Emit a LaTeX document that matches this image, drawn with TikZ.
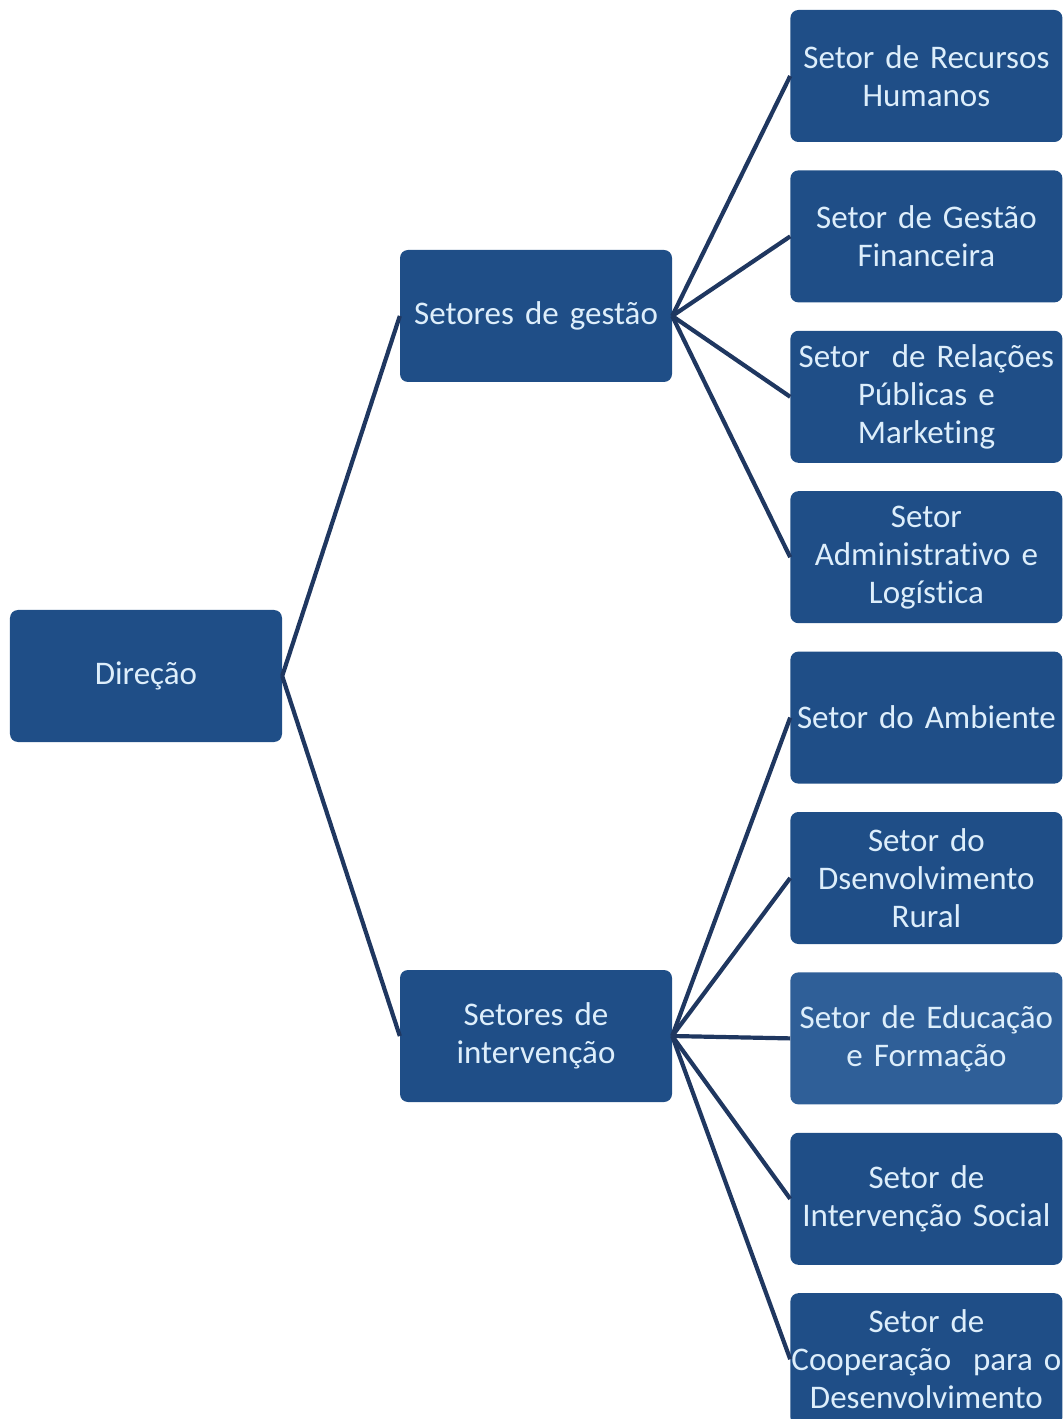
\documentclass[tikz,border=0pt]{standalone}
\usepackage{fontspec}
\setmainfont[Ligatures=NoCommon]{Carlito}
\usetikzlibrary{positioning}
\definecolor{boxblue}{HTML}{1F4E87}
\definecolor{boxlight}{HTML}{2F5F98}
\definecolor{txtblue}{HTML}{DDEEFB}
\definecolor{linenavy}{HTML}{1F3760}
\begin{document}
\begin{tikzpicture}[x=1pt,y=1pt,node distance=28pt]
\tikzstyle{box}=[fill=boxblue, rounded corners=8pt, minimum width=272pt, minimum height=132pt, text width=272pt, align=center, text=txtblue, font=\fontsize{33}{38}\selectfont, inner sep=0pt]
\tikzstyle{boxl}=[box, fill=boxlight]
\tikzstyle{link}=[draw=linenavy, line width=4.2pt]
\useasboundingbox (-146,676) rectangle (918,-743);
\node (dir) [box] at (0,0) {Direção};
\node (ges) [box] at (390,360) {Setores de gestão};
\node (int) [box] at (390,-360) {Setores de\\intervenção};

\node (rh) [box, right=118pt of ges, yshift=240pt] {Setor de Recursos\\Humanos};
\node (fin) [box, below=of rh] {Setor de Gestão\\Financeira};
\node (rel) [box, below=of fin] {Setor~~de Relações\\Públicas e\\Marketing};
\node (adm) [box, below=of rel] {Setor\\Administrativo e\\Logística};
\node (amb) [box, below=of adm] {Setor do Ambiente};
\node (rur) [box, below=of amb] {Setor do\\Dsenvolvimento\\Rural};
\node (edu) [boxl, below=of rur] {Setor de Educação\\e Formação};
\node (soc) [box, below=of edu] {Setor de\\Intervenção Social};
\node (coo) [box, below=of soc] {Setor de\\Cooperação~~para o\\Desenvolvimento};

\path[link] (dir.east) edge (ges.west);
\path[link] (dir.east) edge (int.west);
\path[link] (ges.east) edge (rh.west);
\path[link] (ges.east) edge (fin.west);
\path[link] (ges.east) edge (rel.west);
\path[link] (ges.east) edge (adm.west);
\path[link] (int.east) edge (amb.west);
\path[link] (int.east) edge (rur.west);
\path[link] (int.east) edge (edu.west);
\path[link] (int.east) edge (soc.west);
\path[link] (int.east) edge (coo.west);
\end{tikzpicture}
\end{document}
